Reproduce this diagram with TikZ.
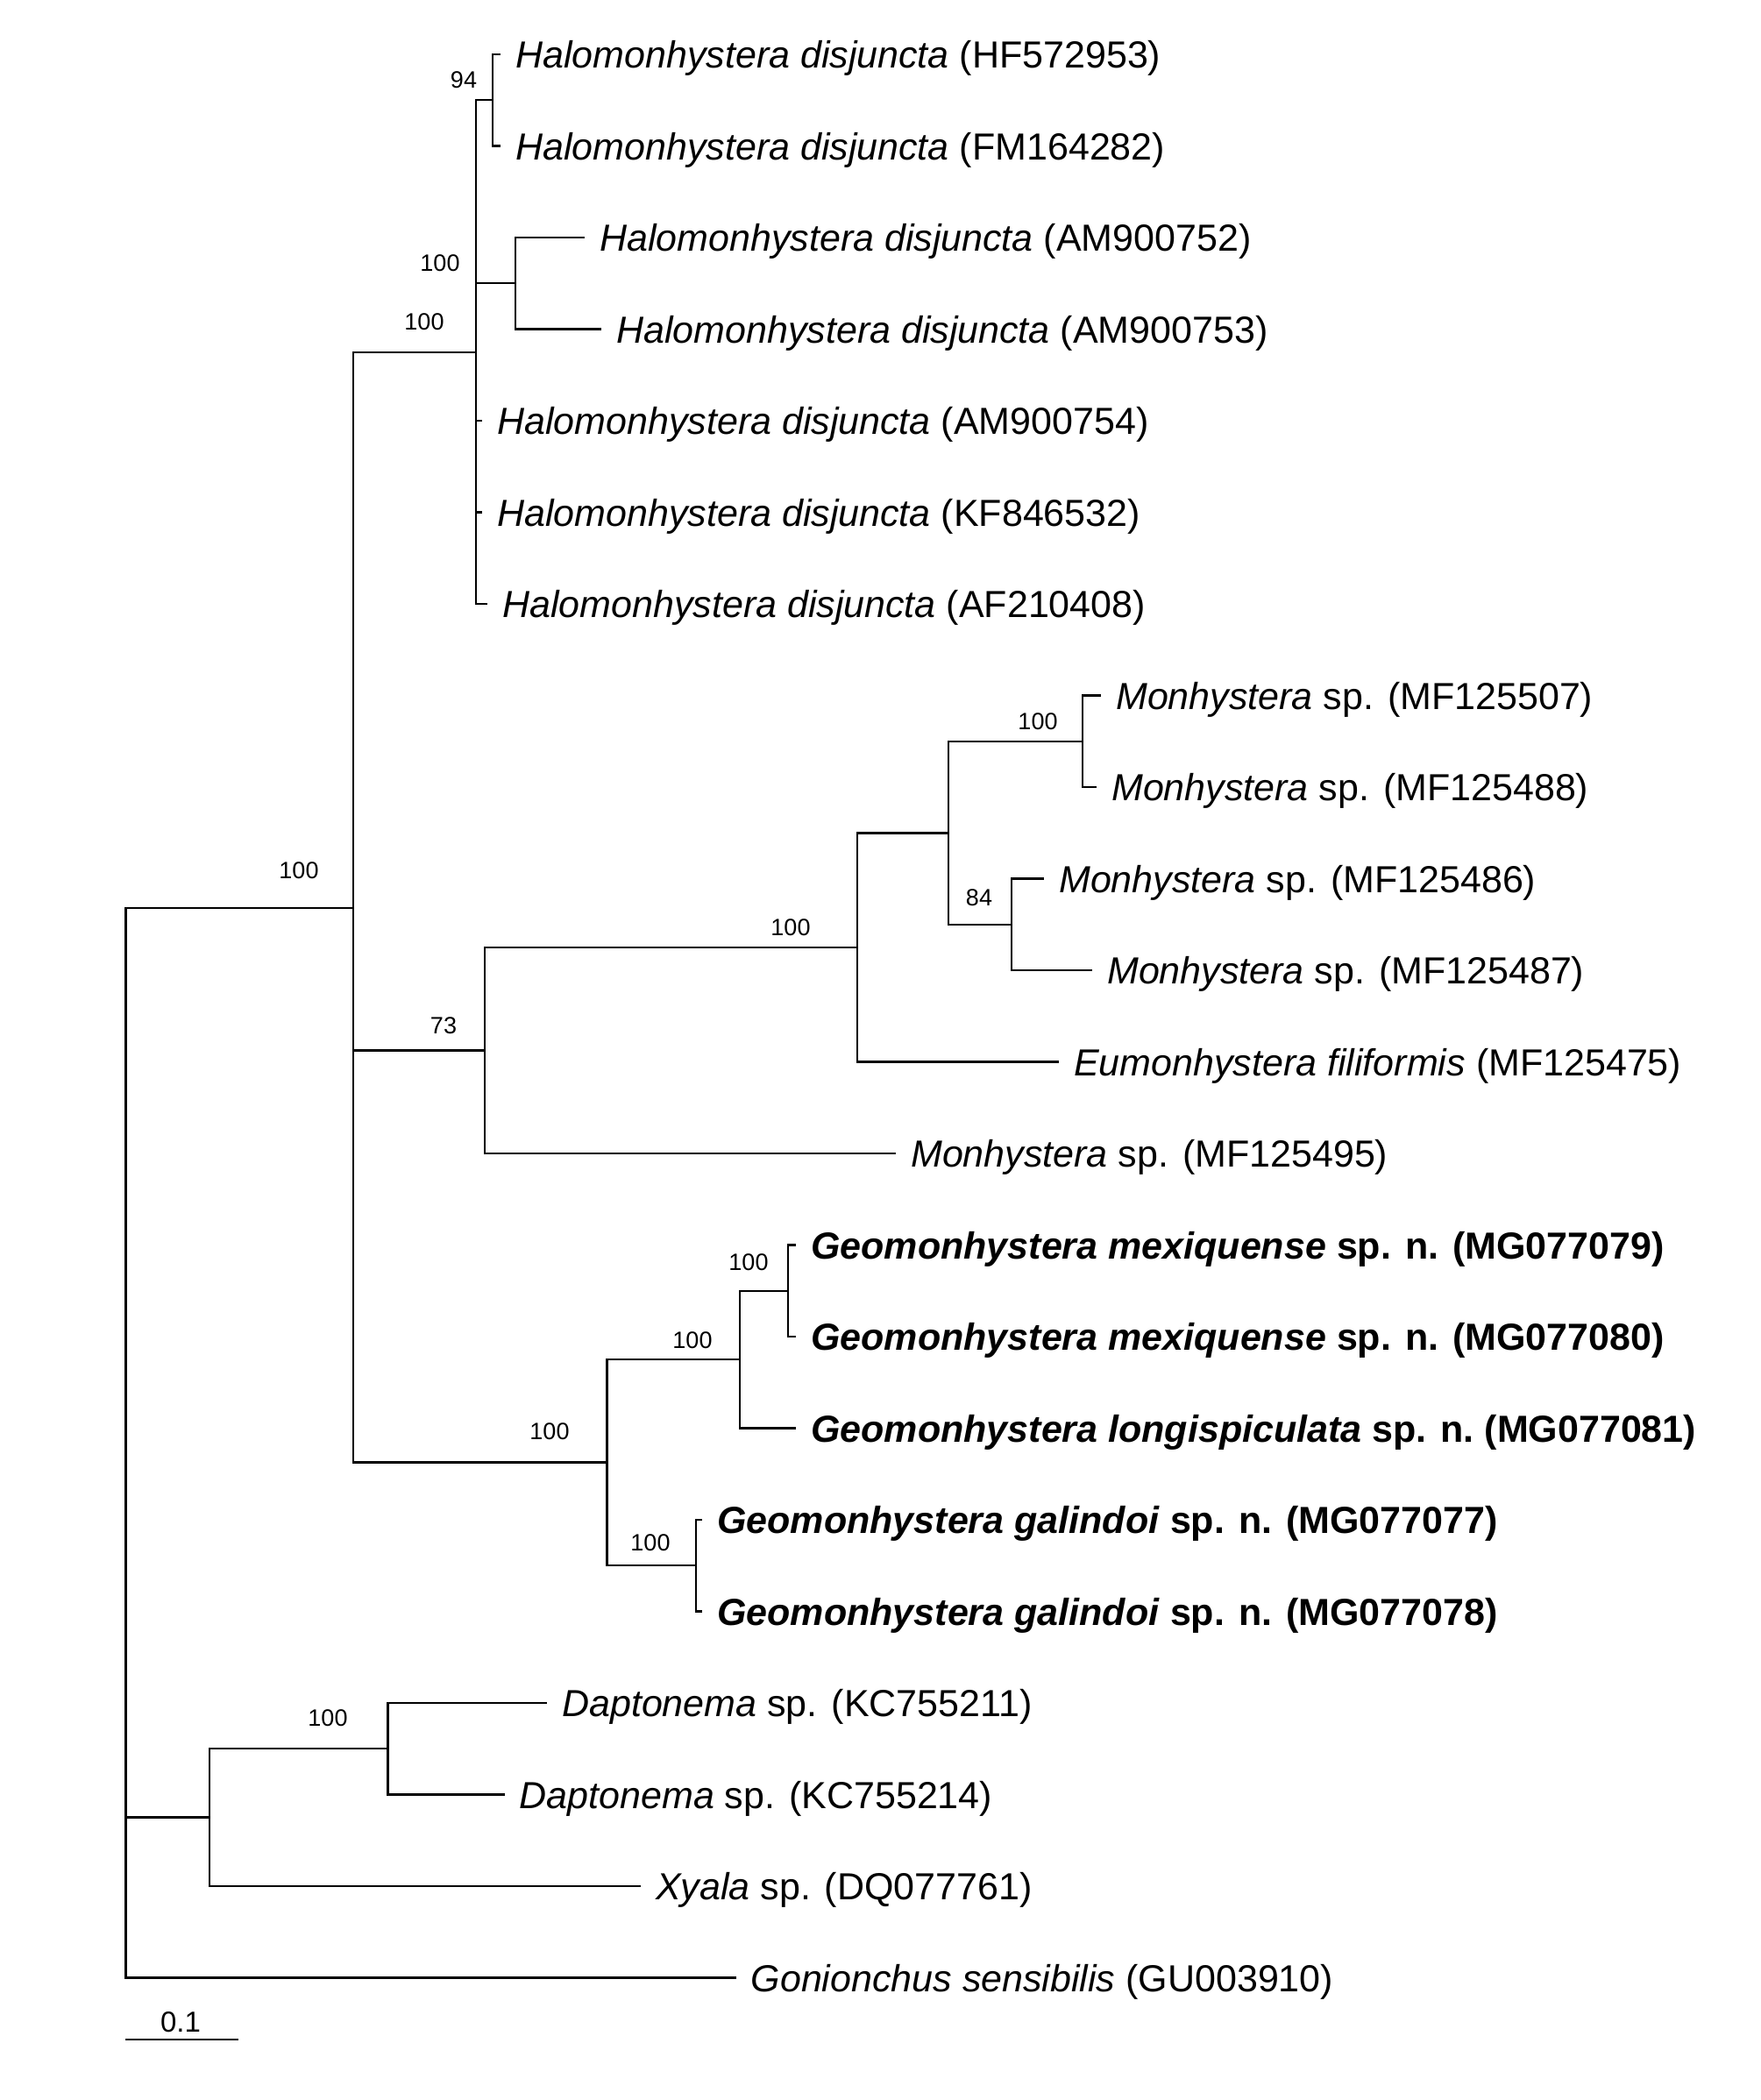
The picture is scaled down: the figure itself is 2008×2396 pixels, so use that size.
\documentclass[tikz,border=0pt]{standalone}
\usepackage{fontspec}
\setmainfont{Liberation Sans}
\begin{document}
\begin{tikzpicture}[x=1pt,y=-1pt,
  br/.style={line width=2.3pt},
  tip/.style={anchor=west,inner xsep=17pt,inner ysep=0pt,text height=31pt,text depth=0pt,font=\fontsize{43}{50}\selectfont},
  boot/.style={inner sep=0pt,font=\fontsize{27}{32}\selectfont},
  scl/.style={inner sep=0pt,font=\fontsize{33}{38}\selectfont}]
\useasboundingbox (0,0) rectangle (2008,2396);
% internal nodes
\coordinate (root) at (143.5,1646);
\coordinate (big) at (403,1035.7);
\coordinate (halo) at (543,402);
\coordinate (n94) at (562,114.25);
\coordinate (am) at (588,323);
\coordinate (n73) at (553,1198.6);
\coordinate (mon100) at (978,1081);
\coordinate (mon4) at (1082,950.4);
\coordinate (m507) at (1235,845.75);
\coordinate (m84) at (1154,1054.75);
\coordinate (geo) at (692.5,1668.5);
\coordinate (upper) at (844,1551);
\coordinate (mex) at (899,1472.75);
\coordinate (gal) at (794,1786);
\coordinate (dx) at (239,2073.5);
\coordinate (dapt) at (442.5,1995);
% tips
\node[tip] (t1) at (571,62) {\textit{Halomonhystera disjuncta} (HF572953)};
\node[tip] (t2) at (571,166.5) {\textit{Halomonhystera disjuncta} (FM164282)};
\node[tip] (t3) at (667,271) {\textit{Halomonhystera disjuncta} (AM900752)};
\node[tip] (t4) at (686,375.5) {\textit{Halomonhystera disjuncta} (AM900753)};
\node[tip] (t5) at (550,480) {\textit{Halomonhystera disjuncta} (AM900754)};
\node[tip] (t6) at (550,584.5) {\textit{Halomonhystera disjuncta} (KF846532)};
\node[tip] (t7) at (556,689) {\textit{Halomonhystera disjuncta} (AF210408)};
\node[tip] (t8) at (1256,793.5) {\textit{Monhystera} sp. (MF125507)};
\node[tip] (t9) at (1251,898) {\textit{Monhystera} sp. (MF125488)};
\node[tip] (t10) at (1191,1002.5) {\textit{Monhystera} sp. (MF125486)};
\node[tip] (t11) at (1246,1107) {\textit{Monhystera} sp. (MF125487)};
\node[tip] (t12) at (1208,1211.5) {\textit{Eumonhystera filiformis} (MF125475)};
\node[tip] (t13) at (1022,1316) {\textit{Monhystera} sp. (MF125495)};
\node[tip] (t14) at (908,1420.5) {\textbf{\textit{Geomonhystera mexiquense} sp. n. (MG077079)}};
\node[tip] (t15) at (908,1525) {\textbf{\textit{Geomonhystera mexiquense} sp. n. (MG077080)}};
\node[tip] (t16) at (908,1629.5) {\textbf{\textit{Geomonhystera longispiculata} sp. n.\hspace{-4pt} (MG077081)}};
\node[tip] (t17) at (801,1734) {\textbf{\textit{Geomonhystera galindoi} sp. n. (MG077077)}};
\node[tip] (t18) at (801,1838.5) {\textbf{\textit{Geomonhystera galindoi} sp. n. (MG077078)}};
\node[tip] (t19) at (624,1943) {\textit{Daptonema} sp. (KC755211)};
\node[tip] (t20) at (575.5,2047.5) {\textit{Daptonema} sp. (KC755214)};
\node[tip] (t21) at (731,2152) {\textit{Xyala} sp. (DQ077761)};
\node[tip] (t22) at (839.5,2256.5) {\textit{Gonionchus sensibilis} (GU003910)};
% branches
\draw[br] (root) |- (big);
\draw[br] (root) |- (dx);
\draw[br] (root) |- (t22.west);
\draw[br] (big) |- (halo);
\draw[br] (big) |- (n73);
\draw[br] (big) |- (geo);
\draw[br] (halo) |- (n94);
\draw[br] (halo) |- (am);
\draw[br] (halo) |- (t5.west);
\draw[br] (halo) |- (t6.west);
\draw[br] (halo) |- (t7.west);
\draw[br] (n94) |- (t1.west);
\draw[br] (n94) |- (t2.west);
\draw[br] (am) |- (t3.west);
\draw[br] (am) |- (t4.west);
\draw[br] (n73) |- (mon100);
\draw[br] (n73) |- (t13.west);
\draw[br] (mon100) |- (mon4);
\draw[br] (mon100) |- (t12.west);
\draw[br] (mon4) |- (m507);
\draw[br] (mon4) |- (m84);
\draw[br] (m507) |- (t8.west);
\draw[br] (m507) |- (t9.west);
\draw[br] (m84) |- (t10.west);
\draw[br] (m84) |- (t11.west);
\draw[br] (geo) |- (upper);
\draw[br] (geo) |- (gal);
\draw[br] (upper) |- (mex);
\draw[br] (upper) |- (t16.west);
\draw[br] (mex) |- (t14.west);
\draw[br] (mex) |- (t15.west);
\draw[br] (gal) |- (t17.west);
\draw[br] (gal) |- (t18.west);
\draw[br] (dx) |- (dapt);
\draw[br] (dx) |- (t21.west);
\draw[br] (dapt) |- (t19.west);
\draw[br] (dapt) |- (t20.west);
% bootstrap values
\node[boot] (b94) at (529,91) {94};
\node[boot] (bam) at (502,300) {100};
\node[boot] (bhalo) at (484,367) {100};
\node[boot] (bbig) at (341,993) {100};
\node[boot] (bm507) at (1184,823) {100};
\node[boot] (bm84) at (1117,1024) {84};
\node[boot] (bmon) at (902,1058) {100};
\node[boot] (b73) at (506,1170) {73};
\node[boot] (bmex) at (854,1440) {100};
\node[boot] (bup) at (790,1529) {100};
\node[boot] (bgeo) at (627,1633) {100};
\node[boot] (bgal) at (742,1760) {100};
\node[boot] (bdapt) at (374,1960) {100};
% scale bar
\coordinate (sb1) at (143,2327);
\coordinate (sb2) at (272,2327);
\draw[br] (sb1) -- (sb2);
\node[scl] (sbl) at (206,2307) {0.1};
\end{tikzpicture}
\end{document}
